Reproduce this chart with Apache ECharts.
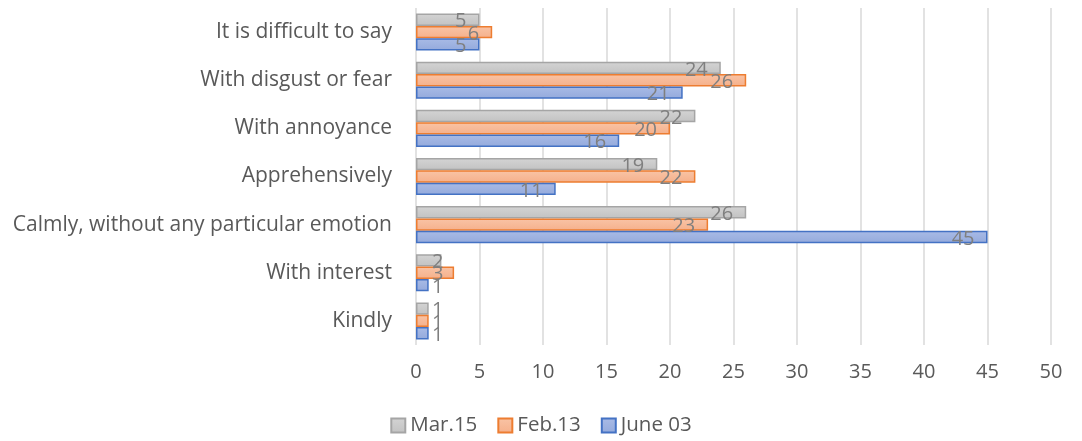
<!DOCTYPE html>
<html>
<head>
<meta charset="utf-8">
<script src="https://cdn.jsdelivr.net/npm/echarts@6/dist/echarts.min.js"></script>
<style>
  html, body { margin: 0; padding: 0; background: #fff; }
  #main { width: 1082px; height: 441px; }
</style>
</head>
<body>
<div id="main"></div>
<script>
// categories bottom -> top
var categories = ['Kindly', 'With interest', 'Calmly, without any particular emotion',
  'Apprehensively', 'With annoyance', 'With disgust or fear', 'It is difficult to say'];
var mar15 = [1, 2, 26, 19, 22, 24, 5];
var feb13 = [1, 3, 23, 22, 20, 26, 6];
var june03 = [1, 1, 45, 11, 16, 21, 5];
var xTicks = [0, 5, 10, 15, 20, 25, 30, 35, 40, 45, 50];

var FONT = 'Open Sans';
var TXT = '#595959';

function grad(top, bottom) {
  return new echarts.graphic.LinearGradient(0, 0, 0, 1, [
    { offset: 0, color: top }, { offset: 1, color: bottom }
  ]);
}

function items(arr) {
  return arr.map(function (v) {
    if (v <= 3) {
      return { value: v, label: { position: [16, '50%'], align: 'left', verticalAlign: 'middle' } };
    }
    return v;
  });
}

function makeSeries(name, data, fill, border) {
  return {
    name: name,
    type: 'bar',
    data: items(data),
    barGap: '0%',
    barCategoryGap: '23%',
    itemStyle: { color: fill, borderColor: border, borderWidth: 1.5 },
    label: {
      show: true,
      position: 'insideRight',
      distance: 13,
      offset: [0, 2],
      color: '#7f7f7f',
      fontFamily: FONT,
      fontSize: 20
    }
  };
}

var chart = echarts.init(document.getElementById('main'));
chart.setOption({
  animation: false,
  grid: { left: 416, right: 31, top: 8, bottom: 96 },
  legend: {
    data: ['Mar.15', 'Feb.13', 'June 03'],
    bottom: 0,
    left: 'center',
    itemWidth: 14,
    itemHeight: 14,
    itemGap: 20,
    icon: 'rect',
    textStyle: { color: TXT, fontFamily: FONT, fontSize: 20.5 }
  },
  xAxis: {
    type: 'value',
    min: xTicks[0],
    max: xTicks[xTicks.length - 1],
    interval: 5,
    axisLine: { show: false },
    axisTick: { show: false },
    axisLabel: { color: TXT, fontFamily: FONT, fontSize: 20, margin: 17 },
    splitLine: { lineStyle: { color: '#d9d9d9', width: 1.5 } }
  },
  yAxis: {
    type: 'category',
    data: categories,
    axisLine: { show: false },
    axisTick: { show: false },
    axisLabel: { color: TXT, fontFamily: FONT, fontSize: 21, margin: 24 }
  },
  series: [
    makeSeries('Mar.15', mar15, grad('#d4d4d4', '#c2c2c2'), '#a5a5a5'),
    makeSeries('Feb.13', feb13, grad('#f9c4a6', '#f5b08b'), '#ed7d31'),
    makeSeries('June 03', june03, grad('#a9bbe6', '#94aadc'), '#4472c4')
  ]
});
</script>
</body>
</html>
